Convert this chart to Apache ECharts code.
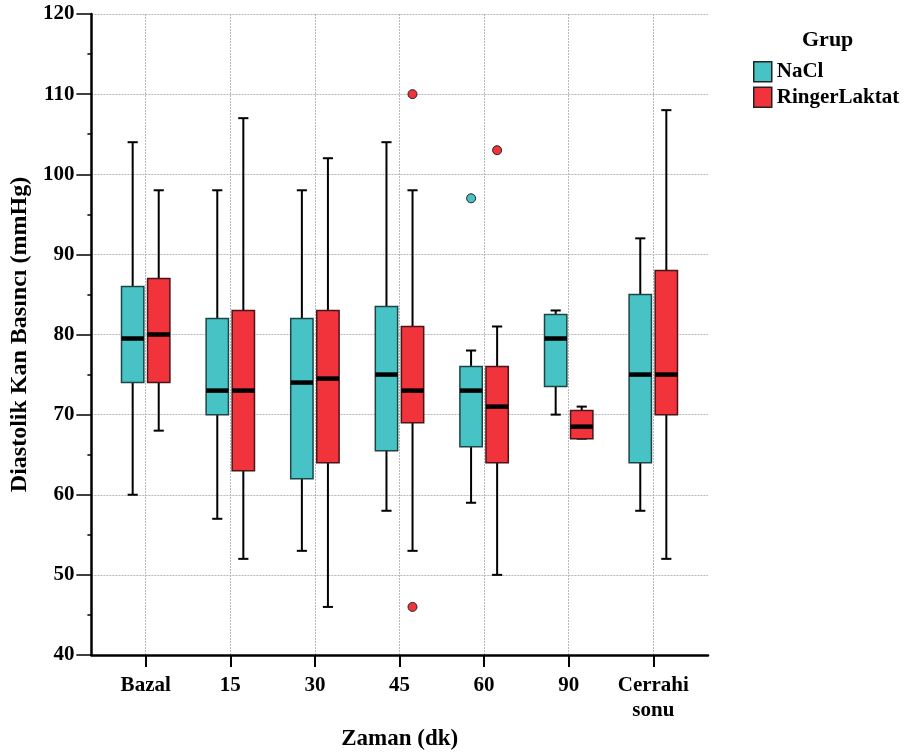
<!DOCTYPE html>
<html>
<head>
<meta charset="utf-8">
<script src="https://cdn.jsdelivr.net/npm/echarts@6/dist/echarts.min.js"></script>
<style>
  html, body { margin: 0; padding: 0; background: #fff; }
  #chart { width: 904px; height: 756px; }
</style>
</head>
<body>
<div id="chart"></div>
<script>
// Diastolic blood pressure over time, NaCl vs Ringer Laktat groups
const categories = ['Bazal', '15', '30', '45', '60', '90', 'Cerrahi\nsonu'];

// NaCl group: whisker ends, quartiles and medians per time point
const naclLow    = [60, 57, 53, 58, 59, 70, 58];
const naclQ1     = [74, 70, 62, 65.5, 66, 73.5, 64];
const naclMedian = [79.5, 73, 74, 75, 73, 79.5, 75];
const naclQ3     = [86, 82, 82, 83.5, 76, 82.5, 85];
const naclHigh   = [104, 98, 98, 104, 78, 83, 92];
const naclOutliers = [[4, 97]];

// Ringer Laktat group
const ringerLow    = [68, 52, 46, 53, 50, 67, 52];
const ringerQ1     = [74, 63, 64, 69, 64, 67, 70];
const ringerMedian = [80, 73, 74.5, 73, 71, 68.5, 75];
const ringerQ3     = [87, 83, 83, 81, 76, 70.5, 88];
const ringerHigh   = [98, 107, 102, 98, 81, 71, 108];
const ringerOutliers = [[3, 110], [3, 46], [4, 103]];

const yTicks = { min: 40, max: 120, interval: 10 };
const pValueText = 'p=0.026';
const pValueAt = [5, 86.2];

const groupNames = ['NaCl', 'RingerLaktat'];
const groupColors = ['#47C3C6', '#F1333B'];
const groupBorders = ['#1d4546', '#4a1518'];

const FONT = '"Liberation Serif", "Times New Roman", serif';

function rows(low, q1, med, q3, high) {
  return low.map((v, i) => [i, v, q1[i], med[i], q3[i], high[i]]);
}

function boxRenderer(side, fill, stroke) {
  return function (params, api) {
    const i = api.value(0);
    const bw = api.size([1, 0])[0];
    const cx = api.coord([i, yTicks.min])[0] + side * bw * 0.154;
    const half = bw * 0.132;
    const capHalf = bw * 0.06;
    const y = k => api.coord([i, api.value(k)])[1];
    const yLow = y(1), yQ1 = y(2), yMed = y(3), yQ3 = y(4), yHigh = y(5);
    const lineStyle = { stroke: '#000', lineWidth: 2 };
    return {
      type: 'group',
      children: [
        { type: 'line', shape: { x1: cx, y1: yHigh, x2: cx, y2: yQ3 }, style: lineStyle },
        { type: 'line', shape: { x1: cx, y1: yQ1, x2: cx, y2: yLow }, style: lineStyle },
        { type: 'line', shape: { x1: cx - capHalf, y1: yHigh, x2: cx + capHalf, y2: yHigh }, style: lineStyle },
        { type: 'line', shape: { x1: cx - capHalf, y1: yLow, x2: cx + capHalf, y2: yLow }, style: lineStyle },
        { type: 'rect', shape: { x: cx - half, y: yQ3, width: half * 2, height: yQ1 - yQ3 },
          style: { fill: fill, stroke: stroke, lineWidth: 1.5 } },
        { type: 'line', shape: { x1: cx - half, y1: yMed, x2: cx + half, y2: yMed },
          style: { stroke: '#000', lineWidth: 4.5 } }
      ]
    };
  };
}

const chart = echarts.init(document.getElementById('chart'), null, { renderer: 'canvas' });

const gridTop = 14, gridHeight = 641;
const bandStep = 84.6;
const gridLineStyle = { color: '#b8b8b8', type: [2, 1], width: 1 };

chart.setOption({
  animation: false,
  backgroundColor: '#fff',
  title: {
    text: 'Grup', left: 797, top: 24,
    textStyle: { fontFamily: FONT, fontWeight: 'bold', fontSize: 22, color: '#000' }
  },
  legend: {
    data: groupNames, orient: 'vertical', left: 748, top: 56,
    icon: 'rect', itemWidth: 18, itemHeight: 20, itemGap: 4,
    itemStyle: { borderColor: '#222', borderWidth: 1.5 },
    textStyle: { fontFamily: FONT, fontWeight: 'bold', fontSize: 21, color: '#000' }
  },
  grid: [
    { left: 88, top: gridTop, width: 620, height: gridHeight },
    { left: 145.7, top: gridTop, width: bandStep * 6, height: gridHeight }
  ],
  xAxis: [
    {
      gridIndex: 0, type: 'value', min: 0, max: 1,
      name: 'Zaman (dk)', nameLocation: 'middle', nameGap: 73,
      nameTextStyle: { fontFamily: FONT, fontWeight: 'bold', fontSize: 23, color: '#000' },
      axisLine: { show: true, lineStyle: { color: '#000', width: 2.5 } },
      axisTick: { show: false }, axisLabel: { show: false }, splitLine: { show: false }
    },
    {
      gridIndex: 1, type: 'category', data: categories, boundaryGap: false,
      axisLine: { show: false },
      axisTick: { show: true, length: 12, lineStyle: { color: '#000', width: 2 } },
      axisLabel: { interval: 0, margin: 18, fontFamily: FONT, fontWeight: 'bold',
                   fontSize: 21, color: '#000', lineHeight: 25 },
      splitLine: { show: true, lineStyle: gridLineStyle }
    }
  ],
  yAxis: [
    {
      gridIndex: 0, type: 'value', min: yTicks.min, max: yTicks.max, interval: yTicks.interval,
      name: 'Diastolik Kan Basıncı (mmHg)', nameLocation: 'middle', nameGap: 57,
      nameTextStyle: { fontFamily: FONT, fontWeight: 'bold', fontSize: 24, color: '#000' },
      axisLine: { show: true, lineStyle: { color: '#000', width: 2.5 } },
      axisTick: { show: true, length: 15, lineStyle: { color: '#000', width: 1.5 } },
      minorTick: { show: true, splitNumber: 2, length: 4, lineStyle: { color: '#000', width: 1.5 } },
      axisLabel: { margin: 17, fontFamily: FONT, fontWeight: 'bold', fontSize: 21, color: '#000' },
      splitLine: { show: true, lineStyle: gridLineStyle }
    },
    {
      gridIndex: 1, type: 'value', min: yTicks.min, max: yTicks.max, show: false
    }
  ],
  series: [
    {
      name: groupNames[0], type: 'custom', xAxisIndex: 1, yAxisIndex: 1,
      itemStyle: { color: groupColors[0] },
      encode: { x: 0, y: [1, 2, 3, 4, 5] },
      data: rows(naclLow, naclQ1, naclMedian, naclQ3, naclHigh),
      renderItem: boxRenderer(-1, groupColors[0], groupBorders[0]),
      z: 3
    },
    {
      name: groupNames[1], type: 'custom', xAxisIndex: 1, yAxisIndex: 1,
      itemStyle: { color: groupColors[1] },
      encode: { x: 0, y: [1, 2, 3, 4, 5] },
      data: rows(ringerLow, ringerQ1, ringerMedian, ringerQ3, ringerHigh),
      renderItem: boxRenderer(1, groupColors[1], groupBorders[1]),
      z: 3
    },
    {
      name: groupNames[0], type: 'scatter', xAxisIndex: 1, yAxisIndex: 1,
      data: naclOutliers, symbol: 'circle', symbolSize: 9, symbolOffset: [-13, 0],
      itemStyle: { color: groupColors[0], borderColor: '#222', borderWidth: 1, opacity: 1 },
      z: 4,
      markPoint: {
        symbol: 'none',
        data: [{ coord: pValueAt, value: pValueText }],
        label: {
          show: true, position: 'inside', offset: [-7, 0], formatter: pValueText,
          fontFamily: FONT, fontWeight: 'bold', fontStyle: 'italic', fontSize: 20, color: '#000'
        }
      }
    },
    {
      name: groupNames[1], type: 'scatter', xAxisIndex: 1, yAxisIndex: 1,
      data: ringerOutliers, symbol: 'circle', symbolSize: 9, symbolOffset: [13, 0],
      itemStyle: { color: groupColors[1], borderColor: '#222', borderWidth: 1, opacity: 1 },
      z: 4
    }
  ]
});
</script>
</body>
</html>
